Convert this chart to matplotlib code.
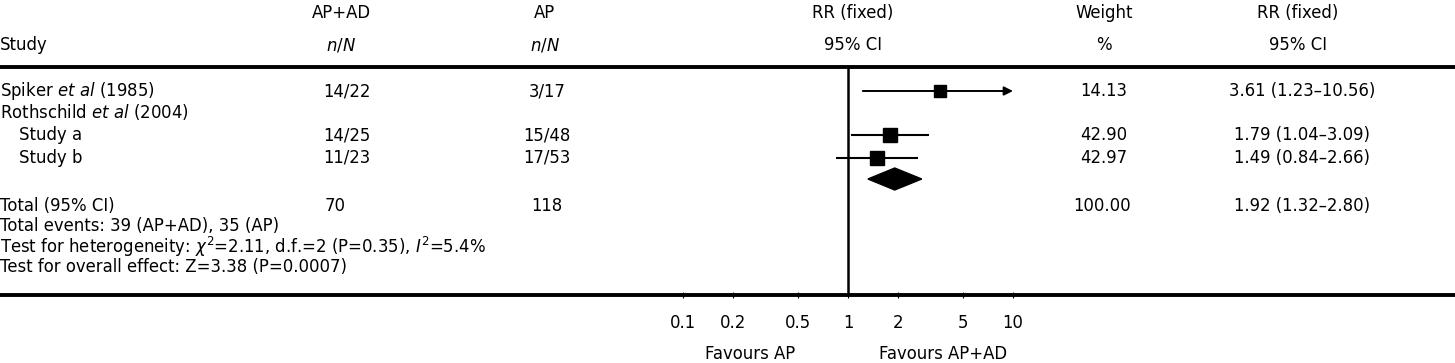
import matplotlib
matplotlib.use("Agg")
import matplotlib.pyplot as plt
from matplotlib.patches import Polygon
from matplotlib.transforms import blended_transform_factory

plt.rcParams['font.family'] = ['DejaVu Sans']
plt.rcParams['mathtext.fontset'] = 'dejavusans'

# ---------------- data ----------------
study_labels = [r"Spiker $\mathit{et\ al}$ (1985)", r"Rothschild $\mathit{et\ al}$ (2004)",
                "Study a", "Study b"]
study_indent = [False, False, True, True]
apad_nN = ["14/22", "", "14/25", "11/23"]
ap_nN = ["3/17", "", "15/48", "17/53"]
rr = [3.61, None, 1.79, 1.49]
rr_lo = [1.23, None, 1.04, 0.84]
rr_hi = [10.56, None, 3.09, 2.66]
weight = [14.13, None, 42.90, 42.97]

total_label = "Total (95% CI)"
total_apad = "70"
total_ap = "118"
total_rr, total_lo, total_hi = 1.92, 1.32, 2.80
total_weight = 100.00

footer_lines = ["Total events: 39 (AP+AD), 35 (AP)",
                r"Test for heterogeneity: $\chi^2$=2.11, d.f.=2 (P=0.35), $\mathit{I}^2$=5.4%",
                "Test for overall effect: Z=3.38 (P=0.0007)"]

tick_vals = [0.1, 0.2, 0.5, 1, 2, 5, 10]
tick_labels = ["0.1", "0.2", "0.5", "1", "2", "5", "10"]

# ---------------- layout (pixel rows) ----------------
W, H = 1455, 363
fig = plt.figure(figsize=(W / 100, H / 100), dpi=100)
top_line, bottom_line = 67, 295
ax = fig.add_axes([0, (H - bottom_line) / H, 1, (bottom_line - top_line) / H])
px_per_dec = 165.0
x_one = 848.0
ax.set_xscale('log')
ax.set_xlim(10 ** (-x_one / px_per_dec), 10 ** ((W - x_one) / px_per_dec))
ax.set_ylim(bottom_line, top_line)

row_y = [91, 112, 135, 158]
diamond_y = 179
total_y = 206
footer_y = [226, 247, 267]
head_y1, head_y2 = 13, 45

fs = 11.9
tr = blended_transform_factory(fig.transFigure, ax.transData)

def fx(px):
    return px / W

# headers
ax.text(fx(0), head_y2, "Study", transform=tr, ha='left', va='center', fontsize=fs)
ax.text(fx(341), head_y1, "AP+AD", transform=tr, ha='center', va='center', fontsize=fs)
ax.text(fx(341), head_y2, r"$\mathit{n/N}$", transform=tr, ha='center', va='center', fontsize=fs)
ax.text(fx(545), head_y1, "AP", transform=tr, ha='center', va='center', fontsize=fs)
ax.text(fx(545), head_y2, r"$\mathit{n/N}$", transform=tr, ha='center', va='center', fontsize=fs)
ax.text(fx(853), head_y1, "RR (fixed)", transform=tr, ha='center', va='center', fontsize=fs)
ax.text(fx(853), head_y2, "95% CI", transform=tr, ha='center', va='center', fontsize=fs)
ax.text(fx(1104), head_y1, "Weight", transform=tr, ha='center', va='center', fontsize=fs)
ax.text(fx(1104), head_y2, "%", transform=tr, ha='center', va='center', fontsize=fs)
ax.text(fx(1298), head_y1, "RR (fixed)", transform=tr, ha='center', va='center', fontsize=fs)
ax.text(fx(1298), head_y2, "95% CI", transform=tr, ha='center', va='center', fontsize=fs)

# study rows
for i, y in enumerate(row_y):
    ax.text(fx(19 if study_indent[i] else 0), y, study_labels[i], transform=tr,
            ha='left', va='center', fontsize=fs)
    if apad_nN[i]:
        ax.text(fx(347), y, apad_nN[i], transform=tr, ha='center', va='center', fontsize=fs)
    if ap_nN[i]:
        ax.text(fx(547), y, ap_nN[i], transform=tr, ha='center', va='center', fontsize=fs)
    if rr[i] is not None:
        ax.text(fx(1104), y, f"{weight[i]:.2f}", transform=tr, ha='center', va='center', fontsize=fs)
        ax.text(fx(1302), y, f"{rr[i]:.2f} ({rr_lo[i]:.2f}\u2013{rr_hi[i]:.2f})", transform=tr,
                ha='center', va='center', fontsize=fs)
        ms = 7.5 + 0.076 * weight[i]
        if rr_hi[i] > tick_vals[-1]:
            ax.annotate("", xy=(tick_vals[-1], y), xytext=(rr_lo[i], y),
                        arrowprops=dict(arrowstyle='-|>', lw=1.4, color='black',
                                        mutation_scale=13, shrinkA=0, shrinkB=0))
        else:
            ax.plot([rr_lo[i], rr_hi[i]], [y, y], color='black', lw=1.5, solid_capstyle='butt')
        ax.plot([rr[i]], [y], marker='s', ms=ms, color='black', mec='black', zorder=5)

# total
ax.add_patch(Polygon([(total_lo, diamond_y), (total_rr, diamond_y - 11),
                      (total_hi, diamond_y), (total_rr, diamond_y + 11)],
                     closed=True, facecolor='black', edgecolor='black', zorder=5))
ax.text(fx(0), total_y, total_label, transform=tr, ha='left', va='center', fontsize=fs)
ax.text(fx(335), total_y, total_apad, transform=tr, ha='center', va='center', fontsize=fs)
ax.text(fx(547), total_y, total_ap, transform=tr, ha='center', va='center', fontsize=fs)
ax.text(fx(1102), total_y, f"{total_weight:.2f}", transform=tr, ha='center', va='center', fontsize=fs)
ax.text(fx(1302), total_y, f"{total_rr:.2f} ({total_lo:.2f}\u2013{total_hi:.2f})", transform=tr,
        ha='center', va='center', fontsize=fs)
for y, t in zip(footer_y, footer_lines):
    ax.text(fx(0), y, t, transform=tr, ha='left', va='center', fontsize=fs)

# reference line
ax.axvline(1, color='black', lw=1.8, zorder=3)

# spines & ticks
for s in ['left', 'right']:
    ax.spines[s].set_visible(False)
ax.spines['top'].set_linewidth(2.8)
ax.spines['bottom'].set_linewidth(2.8)
ax.set_yticks([])
ax.set_xticks(tick_vals)
ax.set_xticklabels(tick_labels, fontsize=fs)
ax.minorticks_off()
ax.tick_params(axis='x', direction='inout', length=5, width=0.8, pad=11)

ax.text(fx(750), 354, "Favours AP", transform=tr, ha='center', va='center', fontsize=fs)
ax.text(fx(943), 354, "Favours AP+AD", transform=tr, ha='center', va='center', fontsize=fs)

fig.savefig("out.png", dpi=100)
